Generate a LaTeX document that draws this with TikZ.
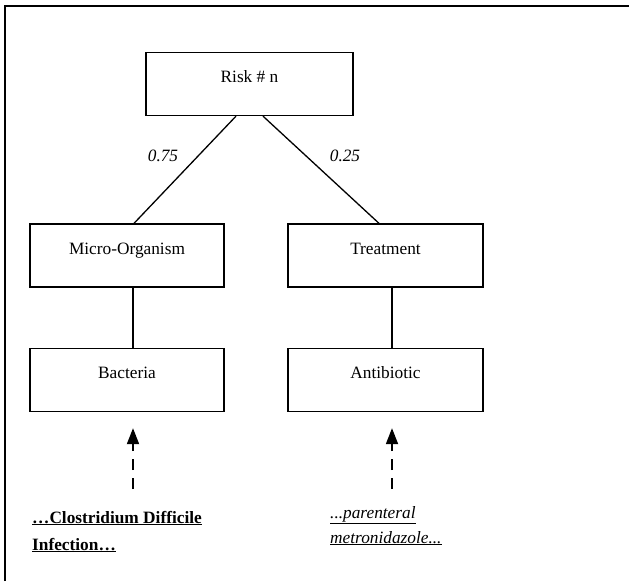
\documentclass[tikz,border=0pt]{standalone}
\usepackage{fontspec}
\setmainfont{Liberation Serif}
\usetikzlibrary{arrows.meta}

\tikzset{
    box/.style={draw, line width=1.3pt, inner sep=0pt, text height=30pt, text depth=33pt,
        font=\fontsize{17.3}{20}\selectfont},
    link/.style={line width=1.3pt},
    prob/.style={font=\fontsize{17.3}{20}\selectfont\itshape, anchor=base},
    dasharrow/.style={line width=1.8pt, dash pattern=on 11.5pt off 7.5pt,
        -{Triangle[length=16pt,width=12pt]}, shorten >=16pt},
    note/.style={font=\fontsize{17.3}{20}\selectfont, anchor=base west, inner sep=0pt}
}

\begin{document}
\begin{tikzpicture}[x=1pt,y=-1pt]
    \useasboundingbox (0,0) rectangle (629,581);

    % Frame
    \draw[line width=2pt] (5,581) -- (5,6) -- (629,6);

    % Risk
    \node[box, minimum width=207pt] (risk) at (249.5,84) {Risk \# n};

    % Level 1
    \node[box, minimum width=194pt] (micro) at (127,255.5) {Micro-Organism};
    \node[box, minimum width=195pt] (treat) at (385.5,255.5) {Treatment};

    % Level 2
    \node[box, minimum width=194pt] (bact) at (127,380) {Bacteria};
    \node[box, minimum width=195pt] (anti) at (385.5,380) {Antibiotic};

    % Links
    \draw[link] ([xshift=-13.5pt]risk.south) -- ([xshift=7pt]micro.north);
    \draw[link] ([xshift=13.5pt]risk.south) -- ([xshift=-6.5pt]treat.north);
    \draw[link] ([xshift=6pt]micro.south) -- ([xshift=6pt]bact.north);
    \draw[link] ([xshift=6.5pt]treat.south) -- ([xshift=6.5pt]anti.north);

    % Probabilities
    \node[prob] (pl) at (163,161) {0.75};
    \node[prob] (pr) at (345,161) {0.25};

    % Evidence
    \coordinate (srcL) at (133,489);
    \coordinate (srcR) at (392,489);
    \draw[dasharrow] (srcL) -- (srcL |- bact.south);
    \draw[dasharrow] (srcR) -- (srcR |- anti.south);

    \node[note, font=\fontsize{17.3}{20}\selectfont\bfseries] (cdiA) at (32,523)
        {\underline{…Clostridium Difficile}};
    \node[note, font=\fontsize{17.3}{20}\selectfont\bfseries] (cdiB) at (32,550)
        {\underline{Infection…}};
    \node[note, font=\fontsize{17.3}{20}\selectfont\itshape] (metA) at (330,518)
        {\underline{...parenteral}};
    \node[note, font=\fontsize{17.3}{20}\selectfont\itshape] (metB) at (330,543)
        {\underline{metronidazole...}};
\end{tikzpicture}
\end{document}
